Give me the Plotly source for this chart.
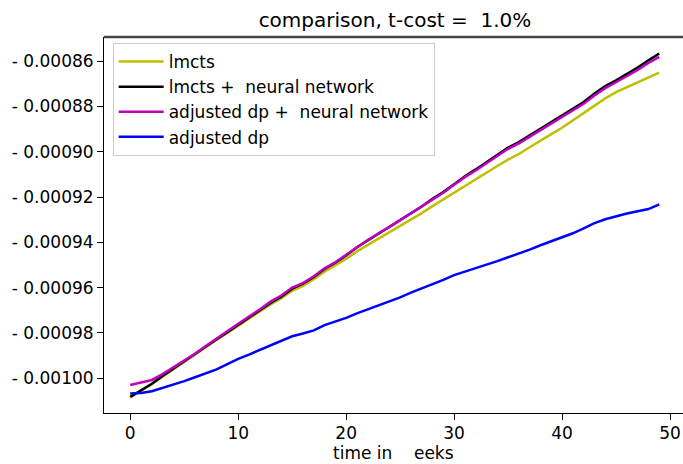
import plotly.graph_objects as go

weeks = list(range(50))

lmcts = [-0.0010085, -0.0010057, -0.0010027, -0.0009993, -0.0009960, -0.0009928, -0.0009896, -0.0009863,
         -0.0009831, -0.0009800, -0.0009769, -0.0009739, -0.0009707, -0.0009674, -0.0009647, -0.0009614,
         -0.0009592, -0.0009563, -0.0009530, -0.0009503, -0.0009473, -0.0009440, -0.0009412, -0.0009384,
         -0.0009358, -0.0009328, -0.0009299, -0.0009271, -0.0009240, -0.0009210, -0.0009180, -0.0009150,
         -0.0009122, -0.0009093, -0.0009063, -0.0009035, -0.0009010, -0.0008980, -0.0008950, -0.0008922,
         -0.0008894, -0.0008862, -0.0008830, -0.0008795, -0.0008764, -0.0008737, -0.0008715, -0.0008693,
         -0.0008670, -0.0008650]

lmcts_nn = [-0.0010083, -0.0010055, -0.0010025, -0.0009990, -0.0009957, -0.0009925, -0.0009893, -0.0009860,
            -0.0009828, -0.0009797, -0.0009765, -0.0009735, -0.0009702, -0.0009668, -0.0009640, -0.0009605,
            -0.0009583, -0.0009553, -0.0009518, -0.0009490, -0.0009458, -0.0009422, -0.0009392, -0.0009362,
            -0.0009335, -0.0009303, -0.0009272, -0.0009242, -0.0009208, -0.0009178, -0.0009143, -0.0009108,
            -0.0009078, -0.0009046, -0.0009013, -0.0008982, -0.0008957, -0.0008928, -0.0008897, -0.0008868,
            -0.0008840, -0.0008812, -0.0008780, -0.0008743, -0.0008710, -0.0008684, -0.0008657, -0.0008628,
            -0.0008596, -0.0008566]

adj_dp_nn = [-0.0010030, -0.0010020, -0.0010008, -0.0009982, -0.0009953, -0.0009923, -0.0009892, -0.0009858,
             -0.0009824, -0.0009792, -0.0009760, -0.0009728, -0.0009697, -0.0009662, -0.0009635, -0.0009600,
             -0.0009580, -0.0009550, -0.0009515, -0.0009488, -0.0009455, -0.0009420, -0.0009390, -0.0009360,
             -0.0009333, -0.0009302, -0.0009272, -0.0009243, -0.0009210, -0.0009181, -0.0009146, -0.0009112,
             -0.0009083, -0.0009051, -0.0009018, -0.0008987, -0.0008963, -0.0008934, -0.0008903, -0.0008874,
             -0.0008846, -0.0008819, -0.0008788, -0.0008751, -0.0008719, -0.0008693, -0.0008667, -0.0008639,
             -0.0008608, -0.0008581]

adj_dp = [-0.0010068, -0.0010066, -0.0010058, -0.0010044, -0.0010029, -0.0010013, -0.0009996, -0.0009977,
          -0.0009961, -0.0009938, -0.0009915, -0.0009896, -0.0009876, -0.0009857, -0.0009838, -0.0009815,
          -0.0009803, -0.0009789, -0.0009766, -0.0009750, -0.0009734, -0.0009714, -0.0009696, -0.0009678,
          -0.0009662, -0.0009643, -0.0009622, -0.0009604, -0.0009584, -0.0009566, -0.0009545, -0.0009530,
          -0.0009516, -0.0009501, -0.0009483, -0.0009466, -0.0009450, -0.0009432, -0.0009413, -0.0009396,
          -0.0009378, -0.0009360, -0.0009338, -0.0009315, -0.0009298, -0.0009284, -0.0009273, -0.0009263,
          -0.0009253, -0.0009232]

y_ticks = [-0.00100, -0.00098, -0.00096, -0.00094, -0.00092, -0.00090, -0.00088, -0.00086]
y_labels = ["- 0.00100", "- 0.00098", "- 0.00096", "- 0.00094", "- 0.00092", "- 0.00090", "- 0.00088", "- 0.00086"]

fnt = "DejaVu Sans, sans-serif"

fig = go.Figure()
fig.add_trace(go.Scatter(x=weeks, y=lmcts, mode="lines", name="lmcts", line=dict(color="#bfbf00", width=2.5)))
fig.add_trace(go.Scatter(x=weeks, y=lmcts_nn, mode="lines", name="lmcts +  neural network",
                         line=dict(color="black", width=2.5)))
fig.add_trace(go.Scatter(x=weeks, y=adj_dp_nn, mode="lines", name="adjusted dp +  neural network",
                         line=dict(color="#bf00bf", width=2.5)))
fig.add_trace(go.Scatter(x=weeks, y=adj_dp, mode="lines", name="adjusted dp", line=dict(color="blue", width=2.5)))

fig.update_layout(
    width=683, height=464,
    margin=dict(l=104, r=0, t=37, b=51),
    plot_bgcolor="white", paper_bgcolor="white",
    font=dict(family=fnt, size=17, color="black"),
    title=dict(text="comparison, t-cost =  1.0%", x=0.5783, xanchor="center", y=0.957, yanchor="middle",
               font=dict(size=20)),
    legend=dict(x=0.015, y=0.984, xanchor="left", yanchor="top", bgcolor="rgba(255,255,255,0.8)",
                bordercolor="#cccccc", borderwidth=1, font=dict(size=17), itemwidth=45),
    showlegend=True,
)
fig.update_xaxes(range=[-2.43, 51.2], tickvals=[0, 10, 20, 30, 40, 50], ticks="outside", ticklen=6,
                 tickcolor="black", showline=True, linecolor="black", linewidth=1, showgrid=False,
                 zeroline=False, automargin=False, ticklabelstandoff=-1)
fig.update_yaxes(range=[-0.0010154, -0.0008493], tickvals=y_ticks, ticktext=y_labels, ticks="outside",
                 ticklen=6, tickcolor="black", showline=True, linecolor="black", linewidth=1,
                 showgrid=False, zeroline=False, automargin=False)
fig.add_shape(type="line", xref="paper", yref="paper", x0=0, x1=1, y0=1, y1=1,
              line=dict(color="#444444", width=2.5))
fig.add_annotation(text="time in    eeks", xref="paper", yref="paper", x=0.5, y=0, xanchor="center",
                   yanchor="top", yshift=-28, showarrow=False, font=dict(size=17))

# the page body has an 8px default margin; drop it so the figure fills the window
fig.write_html("out.html", config={"displayModeBar": False},
               post_script="document.body.style.margin='0';")
